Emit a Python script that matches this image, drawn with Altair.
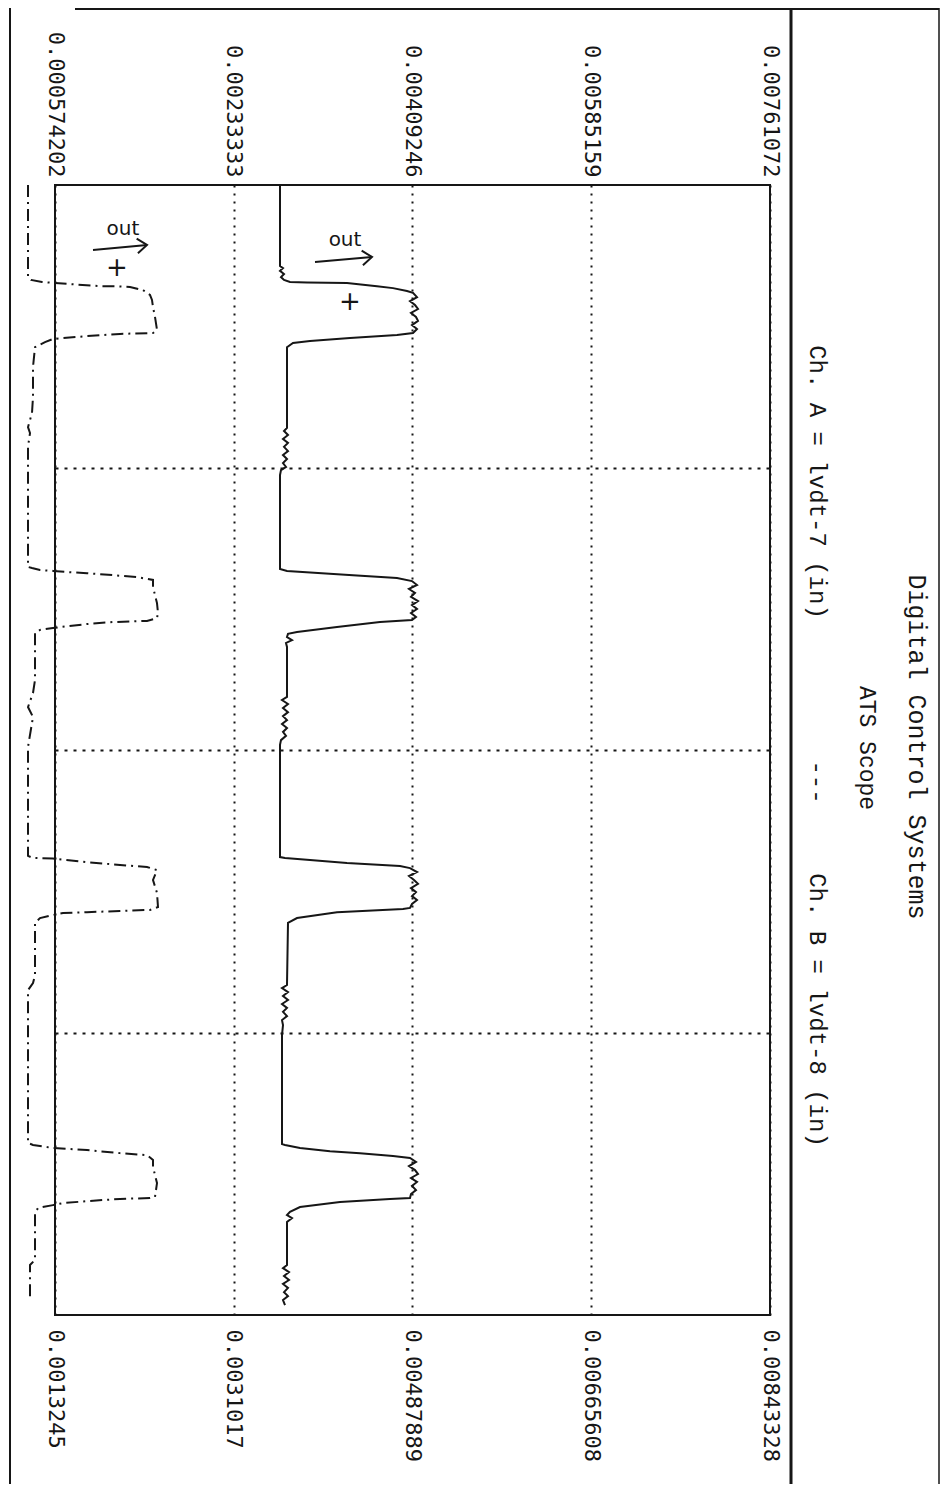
import altair as alt
import pandas as pd

# ---- axis ticks ----
A_TICKS = [0.000574202, 0.00233333, 0.00409246, 0.00585159, 0.00761072]
B_TICKS = [0.0013245, 0.0031017, 0.00487889, 0.00665608, 0.00843328]
TIME_GRID = [1, 2, 3]          # time divisions (4 in total)

# ---- Ch. A (solid trace): time in divisions, value in inches ----
a_t = [0.000, 0.287, 0.294, 0.304, 0.315, 0.326, 0.336, 0.343, 0.345, 0.347, 0.358, 0.365, 0.375, 0.382,
       0.397, 0.411, 0.425, 0.439, 0.453, 0.467, 0.481, 0.496, 0.510, 0.524,
       0.531, 0.542, 0.552, 0.559, 0.574, 0.860,
       0.871, 0.885, 0.899, 0.913, 0.927, 0.942, 0.956, 0.970, 0.984, 0.998, 1.009, 1.027,
       1.359, 1.366, 1.381, 1.391, 1.402,
       1.416, 1.430, 1.444, 1.458, 1.473, 1.487, 1.501, 1.515, 1.529, 1.540,
       1.547, 1.565, 1.582, 1.589, 1.600, 1.611, 1.621, 1.635, 1.812,
       1.823, 1.837, 1.851, 1.866, 1.880, 1.894, 1.908, 1.922, 1.936, 1.950, 1.965, 1.982,
       2.379, 2.382, 2.389, 2.400, 2.411, 2.418,
       2.432, 2.446, 2.460, 2.474, 2.489, 2.503, 2.517, 2.531, 2.545, 2.559,
       2.563, 2.574, 2.595, 2.612, 2.832,
       2.843, 2.857, 2.871, 2.885, 2.899, 2.913, 2.927, 2.942, 2.956, 2.974, 3.009,
       3.395, 3.398, 3.409, 3.420, 3.427, 3.437, 3.444,
       3.458, 3.473, 3.487, 3.501, 3.515, 3.529, 3.543, 3.558, 3.572, 3.586,
       3.589, 3.600, 3.618, 3.635, 3.646, 3.657, 3.671, 3.823,
       3.834, 3.848, 3.862, 3.876, 3.890, 3.904, 3.919, 3.933, 3.947, 3.965]
a_v = [0.0027885, 0.0027885, 0.0028180, 0.0027885, 0.0028279, 0.0027983, 0.0028279, 0.0028869, 0.0030542, 0.0034479, 0.0037431, 0.0039006, 0.0040383, 0.0040974,
       0.0041367, 0.0040679, 0.0041171, 0.0041466, 0.0040777, 0.0041269, 0.0041466, 0.0040875, 0.0041367, 0.0040974,
       0.0039399, 0.0034774, 0.0030837, 0.0029164, 0.0028574, 0.0028574,
       0.0028279, 0.0028672, 0.0028180, 0.0028672, 0.0028279, 0.0028672, 0.0028180, 0.0028574, 0.0028180, 0.0028475, 0.0027983, 0.0027885,
       0.0027885, 0.0028574, 0.0035069, 0.0039399, 0.0040875,
       0.0041367, 0.0040580, 0.0041171, 0.0040777, 0.0041466, 0.0040875, 0.0041367, 0.0040777, 0.0041269, 0.0040875,
       0.0037726, 0.0033494, 0.0029558, 0.0028672, 0.0028574, 0.0029066, 0.0028475, 0.0028574, 0.0028574,
       0.0028082, 0.0028672, 0.0028180, 0.0028672, 0.0028180, 0.0028574, 0.0028082, 0.0028574, 0.0028180, 0.0028475, 0.0027983, 0.0027885,
       0.0027885, 0.0028377, 0.0030837, 0.0034479, 0.0039694, 0.0040679,
       0.0041367, 0.0040580, 0.0041072, 0.0041466, 0.0040777, 0.0041269, 0.0040875, 0.0041367, 0.0040875, 0.0040679,
       0.0039990, 0.0033494, 0.0029558, 0.0028672, 0.0028574,
       0.0028082, 0.0028672, 0.0028180, 0.0028672, 0.0028082, 0.0028574, 0.0028180, 0.0028574, 0.0028082, 0.0028180, 0.0028082,
       0.0028082, 0.0028377, 0.0029853, 0.0032806, 0.0035758, 0.0039006, 0.0040679,
       0.0041269, 0.0040580, 0.0041171, 0.0041466, 0.0040777, 0.0041367, 0.0040875, 0.0041269, 0.0040777, 0.0040679,
       0.0038710, 0.0033790, 0.0029853, 0.0028869, 0.0028574, 0.0029066, 0.0028574, 0.0028574,
       0.0028180, 0.0028771, 0.0028279, 0.0028771, 0.0028180, 0.0028672, 0.0028279, 0.0028672, 0.0028180, 0.0028377]

# ---- Ch. B (dash-dot trace) ----
b_t = [0.000, 0.326, 0.336, 0.343, 0.347, 0.358, 0.359, 0.361, 0.372, 0.389, 0.407, 0.432, 0.467, 0.513,
       0.524, 0.527, 0.535, 0.542, 0.545, 0.556, 0.574, 0.644, 0.750, 0.807, 0.857, 0.878, 0.927, 1.352,
       1.356, 1.363, 1.366, 1.370, 1.374, 1.381, 1.388, 1.398, 1.423, 1.480, 1.515, 1.533,
       1.543, 1.547, 1.554, 1.565, 1.568, 1.575, 1.586, 1.752, 1.798, 1.848, 1.883, 1.989, 2.375,
       2.382, 2.384, 2.397, 2.407, 2.414, 2.425, 2.460, 2.506, 2.556,
       2.566, 2.570, 2.574, 2.577, 2.584, 2.595, 2.612, 2.797, 2.825, 2.850, 3.391,
       3.398, 3.402, 3.409, 3.416, 3.427, 3.434, 3.451, 3.476, 3.533, 3.582,
       3.586, 3.589, 3.597, 3.604, 3.611, 3.621, 3.639, 3.805, 3.823, 3.947]
b_v = [0.0010561, 0.0010561, 0.0010859, 0.0011953, 0.0013245, 0.0017719, 0.0019409, 0.0020702, 0.0021994, 0.0022690, 0.0022889, 0.0022989, 0.0023187, 0.0023386,
       0.0022989, 0.0019708, 0.0016427, 0.0014040, 0.0013046, 0.0012251, 0.0011257, 0.0011058, 0.0011058, 0.0010958, 0.0010561, 0.0010759, 0.0010561, 0.0010561,
       0.0010958, 0.0011754, 0.0013046, 0.0014438, 0.0016427, 0.0019012, 0.0021398, 0.0022989, 0.0022989, 0.0023386, 0.0023486, 0.0023386,
       0.0022392, 0.0019012, 0.0016427, 0.0013742, 0.0013046, 0.0011754, 0.0011257, 0.0011257, 0.0011058, 0.0010561, 0.0011058, 0.0010561, 0.0010561,
       0.0011058, 0.0013046, 0.0016427, 0.0019708, 0.0022392, 0.0023386, 0.0022989, 0.0023386, 0.0023486,
       0.0022690, 0.0019708, 0.0016427, 0.0014040, 0.0013046, 0.0011754, 0.0011257, 0.0011257, 0.0011058, 0.0010561, 0.0010561,
       0.0011058, 0.0011754, 0.0013046, 0.0016427, 0.0019708, 0.0022392, 0.0022989, 0.0022989, 0.0023386, 0.0023187,
       0.0022690, 0.0019708, 0.0016427, 0.0014040, 0.0013046, 0.0011555, 0.0011257, 0.0011257, 0.0010759, 0.0010759]

# ---- handwritten annotations (in Ch. A units) ----
out_label = ["out", "out"]
out_t = [0.1540, 0.1930]
out_v = [0.0012434, 0.0034282]
plus_label = ["+", "+"]
plus_t = [0.2938, 0.4142]
plus_v = [0.0011844, 0.0034774]
arrow_t1 = [0.2301, 0.2726]
arrow_v1 = [0.0009482, 0.0031329]
arrow_t2 = [0.2124, 0.2549]
arrow_v2 = [0.0014796, 0.0036939]

TITLE = "Digital Control Systems"
SUBTITLE = "ATS Scope"
LEGEND_A = "Ch. A = lvdt-7 (in)"
LEGEND_SEP = "---"
LEGEND_B = "Ch. B = lvdt-8 (in)"

INK = "#161616"
FONT = "DejaVu Sans Mono"
TFONT = "Liberation Mono"
W, H = 715, 1130

df_a = pd.DataFrame({"t": a_t, "v": a_v, "i": range(len(a_t))})
df_b = pd.DataFrame({"t": b_t, "v": b_v, "i": range(len(b_t))})
df_out = pd.DataFrame({"t": out_t, "v": out_v, "s": out_label})
df_plus = pd.DataFrame({"t": plus_t, "v": plus_v, "s": plus_label})
df_arrow = pd.DataFrame({"t1": arrow_t1, "v1": arrow_v1, "t2": arrow_t2, "v2": arrow_v2})
one = pd.DataFrame({"k": [0]})

y_enc = alt.Y("t:Q", scale=alt.Scale(domain=[0, 4], reverse=True, nice=False, zero=False),
              axis=alt.Axis(values=TIME_GRID, labels=False, ticks=False, domain=False, grid=True,
                            gridColor=INK, gridDash=[3, 6], gridWidth=2, title=None))

xa_scale = alt.Scale(domain=[A_TICKS[0], A_TICKS[-1]], nice=False, zero=False)
xa = alt.X("v:Q", scale=xa_scale,
           axis=alt.Axis(orient="top", values=A_TICKS, format=".6~g", labelAngle=90,
                         labelAlign="right", labelBaseline="middle", labelFont=FONT,
                         labelFontSize=22, labelColor=INK, labelPadding=8, labelFlush=False,
                         labelOverlap=False, ticks=False, domain=False, grid=True,
                         gridColor=INK, gridDash=[2, 6], gridWidth=2, title=None))
xb = alt.X("v:Q", scale=alt.Scale(domain=[B_TICKS[0], B_TICKS[-1]], nice=False, zero=False),
           axis=alt.Axis(orient="bottom", values=B_TICKS, format=".6~g", labelAngle=90,
                         labelAlign="left", labelBaseline="middle", labelFont=FONT,
                         labelFontSize=22, labelColor=INK, labelPadding=14, labelFlush=False,
                         labelOverlap=False, ticks=False, domain=False, grid=False, title=None))

line_a = alt.Chart(df_a).mark_line(color=INK, strokeWidth=2).encode(x=xa, y=y_enc, order="i:Q")
line_b = alt.Chart(df_b).mark_line(color=INK, strokeWidth=2, strokeDash=[12, 5, 2, 5]).encode(
    x=xb, y=y_enc, order="i:Q")

out_text = alt.Chart(df_out).mark_text(font="DejaVu Sans", fontSize=20, color=INK).encode(
    x=alt.X("v:Q", scale=xa_scale), y=alt.Y("t:Q"), text="s:N")
plus_text = alt.Chart(df_plus).mark_text(font="DejaVu Sans", fontSize=26, color=INK).encode(
    x=alt.X("v:Q", scale=xa_scale), y=alt.Y("t:Q"), text="s:N")
arrows = alt.Chart(df_arrow).mark_rule(color=INK, strokeWidth=2).encode(
    x=alt.X("v1:Q", scale=xa_scale), x2="v2:Q", y=alt.Y("t1:Q"), y2="t2:Q")
heads = alt.Chart(df_arrow).mark_point(shape="M -1 -0.75 L 0 0 L -1 0.75", filled=False,
                                       color=INK, strokeWidth=2, size=380, angle=355, opacity=1).encode(
    x=alt.X("v2:Q", scale=xa_scale), y=alt.Y("t2:Q"))

def frame(**enc):
    return alt.Chart(one).mark_rule(color=INK, strokeWidth=enc.pop("sw", 1.5)).encode(**enc)

frames = [
    frame(x=alt.value(736), y=alt.value(-177), y2=alt.value(1299), sw=3),
    frame(x=alt.value(884), y=alt.value(-177), y2=alt.value(1299), sw=1.5),
    frame(x=alt.value(-45), y=alt.value(-177), y2=alt.value(1299), sw=2),
    frame(x=alt.value(20), x2=alt.value(884), y=alt.value(-176), sw=2),
]

def label(text, x, y, size):
    return alt.Chart(pd.DataFrame({"s": [text]})).mark_text(
        font=TFONT, fontSize=size, angle=90, align="center", baseline="middle",
        color=INK, x=x, y=y).encode(text="s:N")

titles = [
    label(TITLE, 862, 562, 25),
    label(SUBTITLE, 812, 563, 23),
    label(LEGEND_A, 762, 297, 24),
    label(LEGEND_SEP, 762, 597, 24),
    label(LEGEND_B, 762, 825, 24),
]

inner = alt.layer(line_a, out_text, plus_text, arrows, heads, *frames, *titles)
chart = alt.layer(inner, line_b).resolve_scale(x="independent").properties(
    width=W, height=H,
    autosize=alt.AutoSizeParams(type="none"),
    padding={"left": 47, "top": 177, "right": 170, "bottom": 169},
    background="white",
).configure_view(stroke=INK, strokeWidth=2)

chart.save("out.html", embed_options={"renderer": "svg", "actions": False})
